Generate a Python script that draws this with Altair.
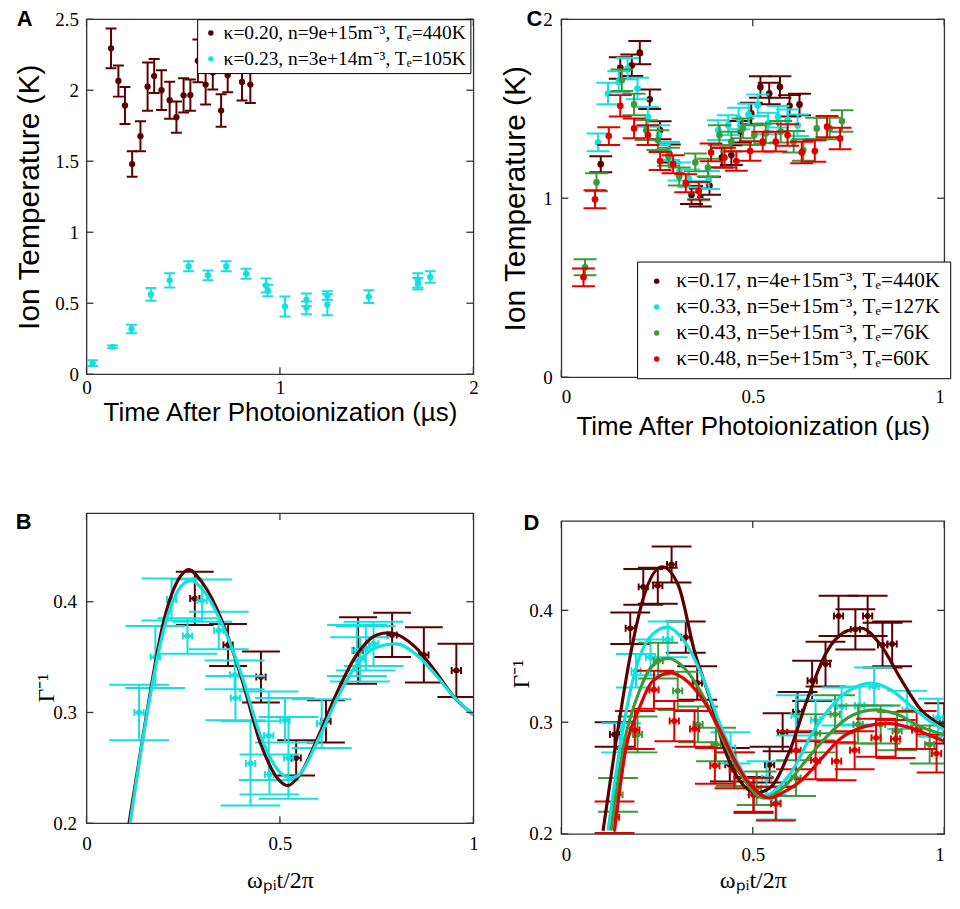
import altair as alt
import pandas as pd

MAROON = "#5c0000"
CYAN = "#14e0e0"
GREEN = "#3c9a3c"
RED = "#e00000"
SANS = "Liberation Sans"
SERIF = "Liberation Serif"
TICKC = "#333333"

# ---------------- Panel A ----------------
A_labels = ["κ=0.20, n=9e+15m⁻³, Tₑ=440K", "κ=0.23, n=3e+14m⁻³, Tₑ=105K"]
A1_x = [0.127, 0.165, 0.199, 0.236, 0.279, 0.316, 0.350, 0.388, 0.430, 0.465, 0.502, 0.537, 0.576, 0.616, 0.653, 0.696, 0.730, 0.804, 0.847]
A1_y = [2.295, 2.065, 1.893, 1.480, 1.676, 2.025, 2.100, 2.000, 1.930, 1.810, 1.964, 1.966, 2.207, 2.040, 2.125, 1.857, 2.105, 2.058, 2.040]
A1_e = [0.14, 0.11, 0.13, 0.09, 0.105, 0.17, 0.12, 0.14, 0.13, 0.11, 0.12, 0.11, 0.15, 0.14, 0.12, 0.115, 0.12, 0.13, 0.13]
A2_x = [0.032, 0.135, 0.233, 0.333, 0.430, 0.528, 0.628, 0.722, 0.825, 0.928, 0.937, 1.026, 1.137, 1.137, 1.245, 1.245, 1.460, 1.713, 1.713, 1.777]
A2_y = [0.078, 0.193, 0.319, 0.562, 0.661, 0.760, 0.696, 0.760, 0.708, 0.625, 0.590, 0.477, 0.524, 0.468, 0.555, 0.490, 0.547, 0.661, 0.637, 0.685]
A2_e = [0.02, 0.01, 0.03, 0.045, 0.05, 0.035, 0.035, 0.035, 0.035, 0.05, 0.04, 0.07, 0.045, 0.045, 0.03, 0.075, 0.045, 0.05, 0.04, 0.04]

# ---------------- Panel C ----------------
C_labels = ["κ=0.17, n=4e+15m⁻³, Tₑ=440K", "κ=0.33, n=5e+15m⁻³, Tₑ=127K",
            "κ=0.43, n=5e+15m⁻³, Tₑ=76K", "κ=0.48, n=5e+15m⁻³, Tₑ=60K"]
C1_x = [0.103, 0.154, 0.184, 0.205, 0.231, 0.258, 0.282, 0.340, 0.363, 0.387, 0.419, 0.444, 0.468, 0.496, 0.520, 0.543, 0.571, 0.596, 0.622]
C1_y = [1.190, 1.728, 1.743, 1.813, 1.553, 1.380, 1.250, 1.018, 1.004, 1.070, 1.227, 1.241, 1.371, 1.474, 1.622, 1.585, 1.622, 1.516, 1.524]
C1_e = [0.045, 0.06, 0.06, 0.065, 0.055, 0.05, 0.05, 0.05, 0.05, 0.05, 0.055, 0.055, 0.06, 0.06, 0.06, 0.06, 0.06, 0.06, 0.06]
C2_x = [0.096, 0.122, 0.150, 0.173, 0.199, 0.226, 0.255, 0.280, 0.308, 0.333, 0.359, 0.385, 0.410, 0.436, 0.463, 0.489, 0.513, 0.540, 0.566, 0.591, 0.617]
C2_y = [1.312, 1.585, 1.650, 1.724, 1.613, 1.455, 1.353, 1.264, 1.149, 1.111, 1.046, 1.102, 1.380, 1.408, 1.446, 1.468, 1.520, 1.418, 1.455, 1.436, 1.408]
C2_e = [0.05, 0.06, 0.06, 0.06, 0.06, 0.055, 0.055, 0.05, 0.05, 0.05, 0.05, 0.05, 0.055, 0.055, 0.06, 0.06, 0.06, 0.06, 0.06, 0.06, 0.06]
C3_x = [0.062, 0.092, 0.158, 0.190, 0.222, 0.252, 0.280, 0.308, 0.350, 0.383, 0.413, 0.444, 0.474, 0.504, 0.534, 0.573, 0.607, 0.632, 0.667, 0.701, 0.733]
C3_y = [0.614, 1.089, 1.659, 1.524, 1.380, 1.325, 1.232, 1.121, 1.200, 1.171, 1.353, 1.316, 1.390, 1.353, 1.362, 1.372, 1.316, 1.269, 1.390, 1.390, 1.431]
C3_e = [0.045, 0.05, 0.06, 0.06, 0.055, 0.055, 0.05, 0.05, 0.05, 0.05, 0.055, 0.055, 0.055, 0.055, 0.055, 0.06, 0.06, 0.06, 0.06, 0.06, 0.06]
C4_x = [0.058, 0.088, 0.124, 0.154, 0.190, 0.226, 0.258, 0.292, 0.325, 0.359, 0.391, 0.426, 0.457, 0.493, 0.526, 0.560, 0.591, 0.628, 0.662, 0.694, 0.728]
C4_y = [0.558, 0.994, 1.347, 1.516, 1.390, 1.353, 1.208, 1.190, 1.084, 1.041, 1.256, 1.227, 1.208, 1.264, 1.316, 1.316, 1.353, 1.256, 1.264, 1.400, 1.334]
C4_e = [0.05, 0.05, 0.05, 0.06, 0.055, 0.055, 0.05, 0.05, 0.05, 0.05, 0.05, 0.055, 0.055, 0.055, 0.055, 0.055, 0.06, 0.06, 0.06, 0.06, 0.06]

# ---------------- Panel B ----------------
B1_x = [0.280, 0.366, 0.451, 0.542, 0.619, 0.702, 0.790, 0.872, 0.956]
B1_y = [0.403, 0.361, 0.332, 0.259, 0.292, 0.356, 0.370, 0.352, 0.338]
B1_e = [0.024, 0.019, 0.023, 0.016, 0.019, 0.030, 0.020, 0.025, 0.024]
B2_x = [0.136, 0.178, 0.220, 0.261, 0.299, 0.342, 0.383, 0.385, 0.424, 0.471, 0.473, 0.513, 0.522, 0.608, 0.699, 0.707, 0.722, 0.742]
B2_y = [0.300, 0.350, 0.402, 0.369, 0.401, 0.374, 0.334, 0.313, 0.254, 0.279, 0.244, 0.293, 0.259, 0.290, 0.356, 0.348, 0.358, 0.362]
B2_e = [0.025, 0.028, 0.019, 0.016, 0.019, 0.017, 0.013, 0.020, 0.038, 0.040, 0.018, 0.020, 0.037, 0.022, 0.023, 0.020, 0.020, 0.020]
B1_fit_x = [0.110, 0.150, 0.200, 0.250, 0.263, 0.300, 0.350, 0.400, 0.450, 0.500, 0.520, 0.550, 0.600, 0.650, 0.700, 0.750, 0.782, 0.850, 0.900, 0.950, 1.000]
B1_fit_y = [0.200, 0.287, 0.383, 0.426, 0.429, 0.417, 0.383, 0.332, 0.272, 0.238, 0.234, 0.243, 0.279, 0.320, 0.353, 0.370, 0.372, 0.359, 0.338, 0.314, 0.298]
B2_fit_x = [0.113, 0.150, 0.200, 0.250, 0.270, 0.300, 0.350, 0.400, 0.450, 0.500, 0.530, 0.550, 0.600, 0.650, 0.700, 0.750, 0.800, 0.850, 0.900, 0.950, 1.000]
B2_fit_y = [0.200, 0.285, 0.375, 0.416, 0.419, 0.411, 0.380, 0.335, 0.279, 0.246, 0.241, 0.244, 0.276, 0.314, 0.344, 0.359, 0.362, 0.353, 0.335, 0.314, 0.298]

# ---------------- Panel D ----------------
D1_x = [0.139, 0.180, 0.214, 0.252, 0.288, 0.325, 0.355, 0.440, 0.502, 0.544, 0.578, 0.617, 0.655, 0.690, 0.724, 0.768, 0.800, 0.839, 0.864, 1.000]
D1_y = [0.289, 0.384, 0.421, 0.422, 0.441, 0.376, 0.335, 0.262, 0.235, 0.262, 0.291, 0.309, 0.337, 0.352, 0.395, 0.383, 0.395, 0.369, 0.370, 0.299]
D1_e = [0.011, 0.014, 0.016, 0.016, 0.016, 0.014, 0.015, 0.015, 0.016, 0.016, 0.017, 0.018, 0.018, 0.020, 0.018, 0.018, 0.018, 0.020, 0.020, 0.018]
D2_x = [0.156, 0.195, 0.233, 0.278, 0.442, 0.536, 0.562, 0.613, 0.664, 0.732, 0.779, 0.817, 0.903, 0.984]
D2_y = [0.286, 0.346, 0.358, 0.374, 0.277, 0.250, 0.228, 0.306, 0.302, 0.314, 0.315, 0.332, 0.311, 0.304]
D2_e = [0.013, 0.015, 0.016, 0.016, 0.014, 0.015, 0.015, 0.018, 0.018, 0.017, 0.017, 0.017, 0.017, 0.017]
D3_x = [0.148, 0.199, 0.253, 0.304, 0.357, 0.404, 0.455, 0.510, 0.613, 0.664, 0.715, 0.775, 0.834, 0.877, 0.962]
D3_y = [0.235, 0.289, 0.355, 0.328, 0.298, 0.280, 0.258, 0.241, 0.250, 0.290, 0.307, 0.298, 0.298, 0.292, 0.280]
D3_e = [0.015, 0.016, 0.016, 0.017, 0.016, 0.015, 0.015, 0.015, 0.016, 0.017, 0.017, 0.017, 0.017, 0.017, 0.017]
D4_x = [0.139, 0.192, 0.242, 0.295, 0.348, 0.401, 0.452, 0.502, 0.560, 0.613, 0.664, 0.719, 0.766, 0.822, 0.873, 0.928, 0.980]
D4_y = [0.215, 0.293, 0.329, 0.301, 0.294, 0.261, 0.257, 0.235, 0.227, 0.275, 0.266, 0.265, 0.275, 0.286, 0.285, 0.293, 0.272]
D4_e = [0.014, 0.017, 0.017, 0.018, 0.016, 0.016, 0.016, 0.015, 0.015, 0.017, 0.017, 0.017, 0.017, 0.017, 0.017, 0.017, 0.017]
D1_fit_x = [0.109, 0.143, 0.182, 0.216, 0.263, 0.306, 0.348, 0.391, 0.425, 0.510, 0.544, 0.596, 0.643, 0.690, 0.749, 0.783, 0.834, 0.886, 0.937, 0.988, 1.000]
D1_fit_y = [0.203, 0.283, 0.363, 0.413, 0.439, 0.422, 0.363, 0.318, 0.277, 0.237, 0.241, 0.274, 0.321, 0.361, 0.382, 0.384, 0.369, 0.339, 0.312, 0.298, 0.295]
D2_fit_x = [0.122, 0.160, 0.195, 0.229, 0.276, 0.322, 0.374, 0.408, 0.450, 0.527, 0.596, 0.664, 0.715, 0.766, 0.809, 0.860, 0.911, 0.962, 1.000]
D2_fit_y = [0.203, 0.292, 0.348, 0.375, 0.385, 0.372, 0.336, 0.304, 0.271, 0.234, 0.253, 0.295, 0.318, 0.331, 0.335, 0.329, 0.315, 0.301, 0.293]
D3_fit_x = [0.130, 0.165, 0.203, 0.237, 0.280, 0.322, 0.374, 0.416, 0.459, 0.530, 0.578, 0.630, 0.690, 0.749, 0.817, 0.877, 0.937, 1.000]
D3_fit_y = [0.203, 0.283, 0.327, 0.350, 0.357, 0.348, 0.321, 0.289, 0.259, 0.232, 0.241, 0.262, 0.286, 0.304, 0.311, 0.307, 0.296, 0.289]
D4_fit_x = [0.139, 0.169, 0.203, 0.237, 0.284, 0.331, 0.374, 0.416, 0.459, 0.502, 0.544, 0.578, 0.630, 0.681, 0.732, 0.792, 0.852, 0.911, 0.971, 1.000]
D4_fit_y = [0.203, 0.277, 0.312, 0.336, 0.344, 0.336, 0.318, 0.292, 0.262, 0.241, 0.232, 0.237, 0.249, 0.268, 0.286, 0.296, 0.299, 0.295, 0.287, 0.283]
XERR_BD = 0.012


def make_axis(vals, title, font, size, tx, ty, vertical, lpad, flush=False):
    return alt.Axis(values=vals, format="~g", ticks=False, domain=False, grid=False,
                    labelFont=SERIF, labelFontSize=19, labelColor="black",
                    labelPadding=lpad, labelFlush=flush, labelFlushOffset=0,
                    labelOverlap=False,
                    title=title, titleFont=font, titleFontSize=size,
                    titleFontWeight="normal", titleColor="black",
                    titleX=tx, titleY=ty, titleAngle=270 if vertical else 0,
                    titleAlign="center", titleBaseline="middle")


def build_panel(W, H, xdom, ydom, xvals, yvals, xaxis, yaxis, series, fits,
                labels, colors, legend, letter, letter_xy, ptsize=40):
    xs = alt.Scale(domain=xdom, nice=False, zero=False, clamp=True)
    ys = alt.Scale(domain=ydom, nice=False, zero=False, clamp=True)
    X = lambda f: alt.X(f"{f}:Q", scale=xs, axis=xaxis)
    Y = lambda f: alt.Y(f"{f}:Q", scale=ys, axis=yaxis)
    px_x = (xdom[1] - xdom[0]) / W   # data units per pixel
    px_y = (ydom[1] - ydom[0]) / H
    cscale = alt.Scale(domain=labels, range=colors)
    layers = []
    for (lab, col, xv, yv, ev, capw, xerr) in series:
        df = pd.DataFrame({"x": xv, "y": yv, "e": ev})
        df["ylo"] = df["y"] - df["e"]
        df["yhi"] = df["y"] + df["e"]
        df["clo"] = df["x"] - capw / 2 * px_x
        df["chi"] = df["x"] + capw / 2 * px_x
        df["s"] = lab
        base = alt.Chart(df)
        layers.append(base.mark_rule(color=col, strokeWidth=2, clip=True)
                      .encode(x=X("x"), y=Y("ylo"), y2=alt.Y2("yhi")))
        for f in ("ylo", "yhi"):
            layers.append(base.mark_rule(color=col, strokeWidth=2, clip=True)
                          .encode(x=X("clo"), x2=alt.X2("chi"), y=Y(f)))
        if xerr:
            df["xlo"] = df["x"] - xerr
            df["xhi"] = df["x"] + xerr
            df["tlo"] = df["y"] - 3.5 * px_y
            df["thi"] = df["y"] + 3.5 * px_y
            base = alt.Chart(df)
            layers.append(base.mark_rule(color=col, strokeWidth=2, clip=True)
                          .encode(x=X("xlo"), x2=alt.X2("xhi"), y=Y("y")))
            for f in ("xlo", "xhi"):
                layers.append(base.mark_rule(color=col, strokeWidth=2, clip=True)
                              .encode(x=X(f), y=Y("tlo"), y2=alt.Y2("thi")))
        layers.append(base.mark_circle(size=ptsize, opacity=1, clip=True)
                      .encode(x=X("x"), y=Y("y"),
                              color=alt.Color("s:N", scale=cscale, legend=legend)))
    for (col, fx, fy) in fits:
        fdf = pd.DataFrame({"x": fx, "y": fy})
        layers.append(alt.Chart(fdf).mark_line(color=col, strokeWidth=3.2,
                                               interpolate="monotone", clip=True)
                      .encode(x=X("x"), y=Y("y")))
    # inward frame ticks
    L = 7
    tx = pd.DataFrame({"v": xvals})
    ty = pd.DataFrame({"v": yvals})
    layers += [
        alt.Chart(ty).mark_rule(color=TICKC, strokeWidth=1.3).encode(y=Y("v"), x=alt.value(0), x2=alt.value(L)),
        alt.Chart(ty).mark_rule(color=TICKC, strokeWidth=1.3).encode(y=Y("v"), x=alt.value(W - L), x2=alt.value(W)),
        alt.Chart(tx).mark_rule(color=TICKC, strokeWidth=1.3).encode(x=X("v"), y=alt.value(H - L), y2=alt.value(H)),
        alt.Chart(tx).mark_rule(color=TICKC, strokeWidth=1.3).encode(x=X("v"), y=alt.value(0), y2=alt.value(L)),
    ]
    layers.append(alt.Chart(pd.DataFrame({"t": [letter]})).mark_text(
        font=SANS, fontSize=22, fontWeight="bold", color="black", align="center",
        baseline="alphabetic").encode(text="t:N", x=alt.value(letter_xy[0]), y=alt.value(letter_xy[1])))
    return alt.layer(*layers).properties(width=W, height=H).resolve_scale(color="shared")


# ---- Panel A
WA, HA = 388, 356
legA = alt.Legend(orient="none", legendX=111, legendY=0, title=None, fillColor="white",
                  strokeColor="black", padding=4, labelFont=SERIF, labelFontSize=19.5,
                  labelColor="black", labelLimit=600, symbolType="circle", symbolSize=30,
                  symbolStrokeWidth=0, rowPadding=5, labelOffset=3, cornerRadius=0)
panelA = build_panel(
    WA, HA, [0, 2], [0, 2.5], [0, 1, 2], [0, 0.5, 1, 1.5, 2, 2.5],
    make_axis([0, 1, 2], "Time After Photoionization (µs)", SANS, 26, WA / 2, 38, False, 4),
    make_axis([0, 0.5, 1, 1.5, 2, 2.5], "Ion Temperature (K)", SANS, 30, -57, HA / 2, True, 8),
    [(A_labels[0], MAROON, A1_x, A1_y, A1_e, 11, None),
     (A_labels[1], CYAN, A2_x, A2_y, A2_e, 11, None)],
    [], A_labels, [MAROON, CYAN], legA, "A", (-62, 7))

# ---- Panel C
WC, HC = 384, 359
legC = alt.Legend(orient="none", legendX=76, legendY=243, title=None, fillColor="white",
                  strokeColor="black", padding=9, labelFont=SERIF, labelFontSize=21.3,
                  labelColor="black", labelLimit=600, symbolType="circle", symbolSize=30,
                  symbolStrokeWidth=0, rowPadding=4, labelOffset=9, cornerRadius=0)
panelC = build_panel(
    WC, HC, [0, 1], [0, 2], [0, 0.5, 1], [0, 1, 2],
    make_axis([0, 0.5, 1], "Time After Photoionization (µs)", SANS, 26, WC / 2, 49, False, 10, True),
    make_axis([0, 1, 2], "Ion Temperature (K)", SANS, 30, -46, HC / 2, True, 9),
    [(C_labels[0], MAROON, C1_x, C1_y, C1_e, 23, None),
     (C_labels[1], CYAN, C2_x, C2_y, C2_e, 23, None),
     (C_labels[2], GREEN, C3_x, C3_y, C3_e, 23, None),
     (C_labels[3], RED, C4_x, C4_y, C4_e, 23, None)],
    [], C_labels, [MAROON, CYAN, GREEN, RED], legC, "C", (-27, 7), ptsize=45)

# ---- Panel B
WB, HB = 388, 311
panelB = build_panel(
    WB, HB, [0, 1], [0.2, 0.48], [0, 0.5, 1], [0.2, 0.3, 0.4],
    make_axis([0, 0.5, 1], "ωₚᵢt/2π", SERIF, 24, WB / 2, 57, False, 11),
    make_axis([0.2, 0.3, 0.4], "Γ⁻¹", SERIF, 24, -40, 175, True, 10),
    [(A_labels[0], MAROON, B1_x, B1_y, B1_e, 38, XERR_BD),
     (A_labels[1], CYAN, B2_x, B2_y, B2_e, 60, XERR_BD)],
    [(MAROON, B1_fit_x, B1_fit_y), (CYAN, B2_fit_x, B2_fit_y)],
    A_labels, [MAROON, CYAN], None, "B", (-63, 16), ptsize=35)

# ---- Panel D
WD, HD = 384, 314
panelD = build_panel(
    WD, HD, [0, 1], [0.2, 0.48], [0, 0.5, 1], [0.2, 0.3, 0.4],
    make_axis([0, 0.5, 1], "ωₚᵢt/2π", SERIF, 24, WD / 2, 47, False, 12, True),
    make_axis([0.2, 0.3, 0.4], "Γ⁻¹", SERIF, 24, -40, 153, True, 9),
    [(C_labels[0], MAROON, D1_x, D1_y, D1_e, 40, XERR_BD),
     (C_labels[1], CYAN, D2_x, D2_y, D2_e, 40, XERR_BD),
     (C_labels[2], GREEN, D3_x, D3_y, D3_e, 40, XERR_BD),
     (C_labels[3], RED, D4_x, D4_y, D4_e, 40, XERR_BD)],
    [(MAROON, D1_fit_x, D1_fit_y), (CYAN, D2_fit_x, D2_fit_y),
     (GREEN, D3_fit_x, D3_fit_y), (RED, D4_fit_x, D4_fit_y)],
    C_labels, [MAROON, CYAN, GREEN, RED], None, "D", (-30, 9), ptsize=35)

left = alt.vconcat(panelA, panelB, spacing=84.3).resolve_scale(color="independent")
right = alt.vconcat(panelC, panelD, spacing=71.1).resolve_scale(color="independent")
chart = (alt.hconcat(left, right, spacing=20.2)
         .resolve_scale(color="independent")
         .properties(padding={"left": 5.7, "top": -2, "right": 0, "bottom": 0}, background="white")
         .configure_view(stroke="#333333", strokeWidth=1.3))

chart.save("out.html", embed_options={"renderer": "svg", "actions": False})
